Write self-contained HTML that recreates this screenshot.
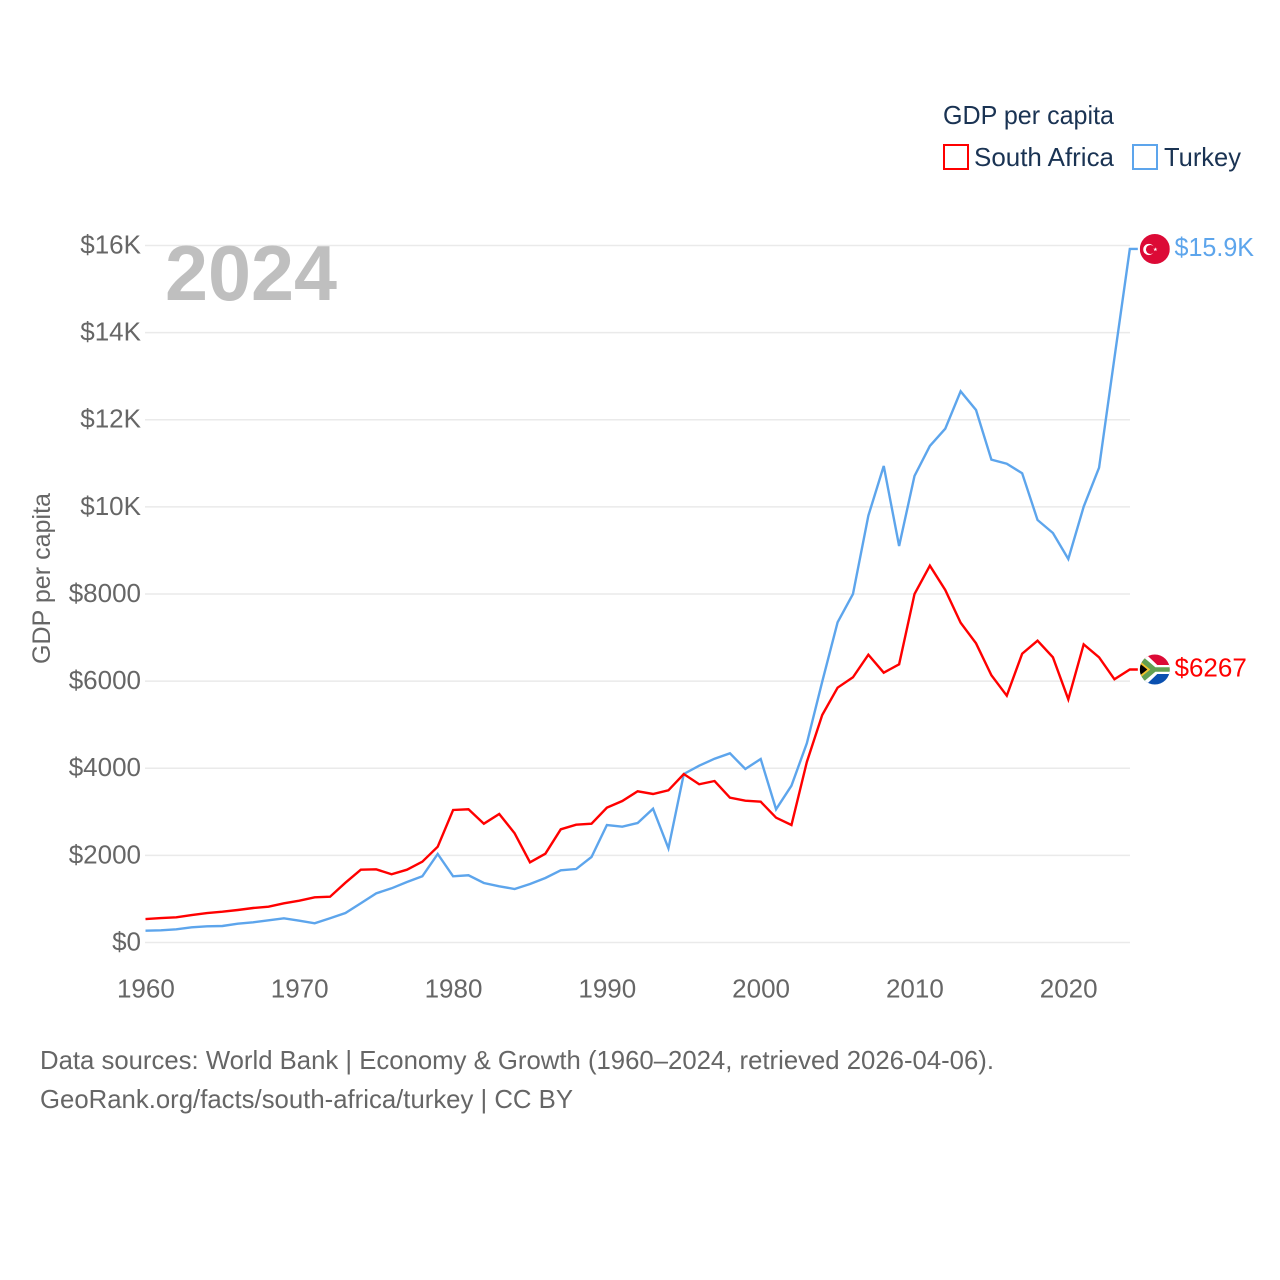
<!DOCTYPE html>
<html lang="en">
<head>
<meta charset="utf-8">
<title>GDP per capita: South Africa and Turkey</title>
<style>
  html, body { margin: 0; padding: 0; background: #fff; }
  svg { display: block; font-family: "Liberation Sans", sans-serif; }
</style>
</head>
<body>
<svg id="chart" width="1280" height="1280" viewBox="0 0 1280 1280" xmlns="http://www.w3.org/2000/svg">
  <defs>
    <clipPath id="flag-clip-tr"><circle cx="15" cy="15" r="15"/></clipPath>
    <clipPath id="flag-clip-za"><circle cx="15" cy="15" r="15"/></clipPath>
  </defs>
  <rect x="0" y="0" width="1280" height="1280" fill="#ffffff"/>

  <g id="grid"></g>
  <g id="y-axis"></g>
  <g id="x-axis"></g>

  <text x="165" y="300" font-size="78" font-weight="700" fill="#bfbfbf" textLength="172" lengthAdjust="spacingAndGlyphs">2024</text>

  <text transform="translate(50 664) rotate(-90)" font-size="25" fill="#666666" textLength="171" lengthAdjust="spacingAndGlyphs">GDP per capita</text>

  <g id="series"></g>

  <g id="flag-turkey">
    <g clip-path="url(#flag-clip-tr)">
      <rect width="30" height="30" fill="#dc0a36"/>
      <circle cx="9" cy="15.5" r="5.6" fill="#ffffff"/>
      <circle cx="10.6" cy="15.5" r="4.5" fill="#dc0a36"/>
      <polygon fill="#ffffff" points="15.5,13.3 16,14.8 17.6,14.8 16.3,15.7 16.8,17.2 15.5,16.3 14.2,17.2 14.7,15.7 13.4,14.8 15,14.8"/>
    </g>
  </g>
  <g id="flag-south-africa">
    <g clip-path="url(#flag-clip-za)">
      <rect width="30" height="15" fill="#dc0a36"/>
      <rect y="15" width="30" height="15" fill="#0a50b0"/>
      <polygon points="0,0 6.5,0 17.5,10.5 30,10.5 30,19.5 17.5,19.5 6.5,30 0,30" fill="#ffffff"/>
      <polygon points="0,2.5 3.5,2.5 15.5,12.8 30,12.8 30,17.2 15.5,17.2 3.5,27.5 0,27.5" fill="#62a052"/>
      <polygon points="0,6.5 10.5,15 0,23.5" fill="#f2c32c"/>
      <polygon points="0,9 7.5,15 0,21" fill="#000000"/>
    </g>
  </g>

  <g id="end-labels"></g>

  <g>
    <text x="943" y="124" font-size="26" fill="#1a3353" textLength="171" lengthAdjust="spacingAndGlyphs">GDP per capita</text>
    <g>
      <rect x="944" y="145" width="24" height="24" fill="none" stroke="#ff0000" stroke-width="2"/>
      <text x="974" y="166" font-size="26" fill="#1a3353" textLength="140" lengthAdjust="spacingAndGlyphs">South Africa</text>
    </g>
    <g>
      <rect x="1133" y="145" width="24" height="24" fill="none" stroke="#5da5ec" stroke-width="2"/>
      <text x="1164" y="166" font-size="26" fill="#1a3353" textLength="77" lengthAdjust="spacingAndGlyphs">Turkey</text>
    </g>
  </g>

  <text x="40" y="1069" font-size="26" fill="#666666" textLength="954" lengthAdjust="spacingAndGlyphs">Data sources: World Bank | Economy &amp; Growth (1960–2024, retrieved 2026-04-06).</text>
  <text x="40" y="1108" font-size="26" fill="#666666" textLength="533" lengthAdjust="spacingAndGlyphs">GeoRank.org/facts/south-africa/turkey | CC BY</text>
</svg>

<script>
const years = [1960,1961,1962,1963,1964,1965,1966,1967,1968,1969,
  1970,1971,1972,1973,1974,1975,1976,1977,1978,1979,
  1980,1981,1982,1983,1984,1985,1986,1987,1988,1989,
  1990,1991,1992,1993,1994,1995,1996,1997,1998,1999,
  2000,2001,2002,2003,2004,2005,2006,2007,2008,2009,
  2010,2011,2012,2013,2014,2015,2016,2017,2018,2019,
  2020,2021,2022,2023,2024];

const southAfricaValues = [539,562,578,631,677,707,746,792,822,900,
  960,1038,1051,1373,1671,1680,1566,1671,1855,2199,
  3042,3058,2727,2950,2507,1841,2039,2598,2704,2727,
  3095,3248,3471,3409,3494,3868,3632,3707,3324,3255,
  3232,2865,2697,4144,5222,5850,6088,6607,6194,6386,
  8000,8650,8092,7341,6868,6134,5666,6630,6928,6547,
  5583,6845,6547,6042,6267];

const turkeyValues = [271,280,303,349,372,379,432,464,510,556,
  500,441,556,677,900,1129,1244,1389,1520,2032,
  1520,1543,1366,1290,1228,1343,1481,1657,1687,1963,
  2697,2658,2743,3071,2162,3868,4058,4219,4343,3983,
  4212,3058,3600,4573,5987,7350,8000,9798,10938,9102,
  10709,11398,11795,12653,12224,11083,10991,10771,9699,9400,
  8803,10004,10900,13420,15920];

const yTickValues = [0,2000,4000,6000,8000,10000,12000,14000,16000];
const yTickLabels = ['$0','$2000','$4000','$6000','$8000','$10K','$12K','$14K','$16K'];
const xTickValues = [1960,1970,1980,1990,2000,2010,2020];
const xTickLabels = ['1960','1970','1980','1990','2000','2010','2020'];
const endLabels = ['$6267','$15.9K'];

const SVG_NS = 'http://www.w3.org/2000/svg';
const plotLeft = 145.5;
const plotRight = 1130;
const xStep = 15.38;
const yZero = 942.5;
const yPerDollar = 0.043563;
const endStub = 8;

function xScale(year) { return plotLeft + (year - years[0]) * xStep; }
function yScale(value) { return yZero - value * yPerDollar; }

const gridLayer = document.getElementById('grid');
const yAxisLayer = document.getElementById('y-axis');
const xAxisLayer = document.getElementById('x-axis');
const seriesLayer = document.getElementById('series');
const labelLayer = document.getElementById('end-labels');

yTickValues.forEach(function (value, i) {
  const line = document.createElementNS(SVG_NS, 'line');
  
  
  line.setAttribute('x1', plotLeft - 0.5);
  line.setAttribute('x2', plotRight);
  line.setAttribute('y1', yScale(value));
  line.setAttribute('y2', yScale(value));
  line.setAttribute('stroke', '#eaeaea');
  line.setAttribute('stroke-width', '1.4');
  gridLayer.appendChild(line);

  const label = document.createElementNS(SVG_NS, 'text');
  
  
  label.setAttribute('x', 141);
  label.setAttribute('y', yScale(value) + 8);
  label.setAttribute('text-anchor', 'end');
  label.setAttribute('font-size', '26');
  label.setAttribute('fill', '#666666');
  label.textContent = yTickLabels[i];
  yAxisLayer.appendChild(label);
});

xTickValues.forEach(function (value, i) {
  const label = document.createElementNS(SVG_NS, 'text');
  
  
  label.setAttribute('x', xScale(value) + 0.4);
  label.setAttribute('y', 997.5);
  label.setAttribute('text-anchor', 'middle');
  label.setAttribute('font-size', '26');
  label.setAttribute('fill', '#666666');
  label.textContent = xTickLabels[i];
  xAxisLayer.appendChild(label);
});

function linePoints(values) {
  const pts = values.map(function (v, i) {
    return xScale(years[i]).toFixed(2) + ',' + yScale(v).toFixed(2);
  });
  const last = values.length - 1;
  pts.push((xScale(years[last]) + endStub).toFixed(2) + ',' + yScale(values[last]).toFixed(2));
  return pts.join(' ');
}

const southAfricaLine = document.createElementNS(SVG_NS, 'polyline');


southAfricaLine.setAttribute('points', linePoints(southAfricaValues));
southAfricaLine.setAttribute('fill', 'none');
southAfricaLine.setAttribute('stroke', '#ff0000');
southAfricaLine.setAttribute('stroke-width', '2.4');
southAfricaLine.setAttribute('stroke-linejoin', 'miter');
seriesLayer.appendChild(southAfricaLine);

const turkeyLine = document.createElementNS(SVG_NS, 'polyline');


turkeyLine.setAttribute('points', linePoints(turkeyValues));
turkeyLine.setAttribute('fill', 'none');
turkeyLine.setAttribute('stroke', '#5da5ec');
turkeyLine.setAttribute('stroke-width', '2.4');
turkeyLine.setAttribute('stroke-linejoin', 'miter');
seriesLayer.insertBefore(turkeyLine, southAfricaLine);

const lastIndex = years.length - 1;
const flagX = xScale(years[lastIndex]) + 10;
const southAfricaEndY = yScale(southAfricaValues[lastIndex]);
const turkeyEndY = yScale(turkeyValues[lastIndex]);

document.getElementById('flag-south-africa').setAttribute('transform', 'translate(' + flagX + ' ' + (southAfricaEndY - 15) + ')');
document.getElementById('flag-turkey').setAttribute('transform', 'translate(' + flagX + ' ' + (turkeyEndY - 15) + ')');

const southAfricaEndLabel = document.createElementNS(SVG_NS, 'text');


southAfricaEndLabel.setAttribute('x', 1174.5);
southAfricaEndLabel.setAttribute('y', southAfricaEndY + 7);
southAfricaEndLabel.setAttribute('font-size', '26');
southAfricaEndLabel.setAttribute('fill', '#ff0000');
southAfricaEndLabel.textContent = endLabels[0];
labelLayer.appendChild(southAfricaEndLabel);

const turkeyEndLabel = document.createElementNS(SVG_NS, 'text');


turkeyEndLabel.setAttribute('x', 1174.5);
turkeyEndLabel.setAttribute('y', turkeyEndY + 7);
turkeyEndLabel.setAttribute('font-size', '26');
turkeyEndLabel.setAttribute('fill', '#5da5ec');
turkeyEndLabel.setAttribute('textLength', '79.5');
turkeyEndLabel.setAttribute('lengthAdjust', 'spacingAndGlyphs');
turkeyEndLabel.textContent = endLabels[1];
labelLayer.appendChild(turkeyEndLabel);
</script>
</body>
</html>
